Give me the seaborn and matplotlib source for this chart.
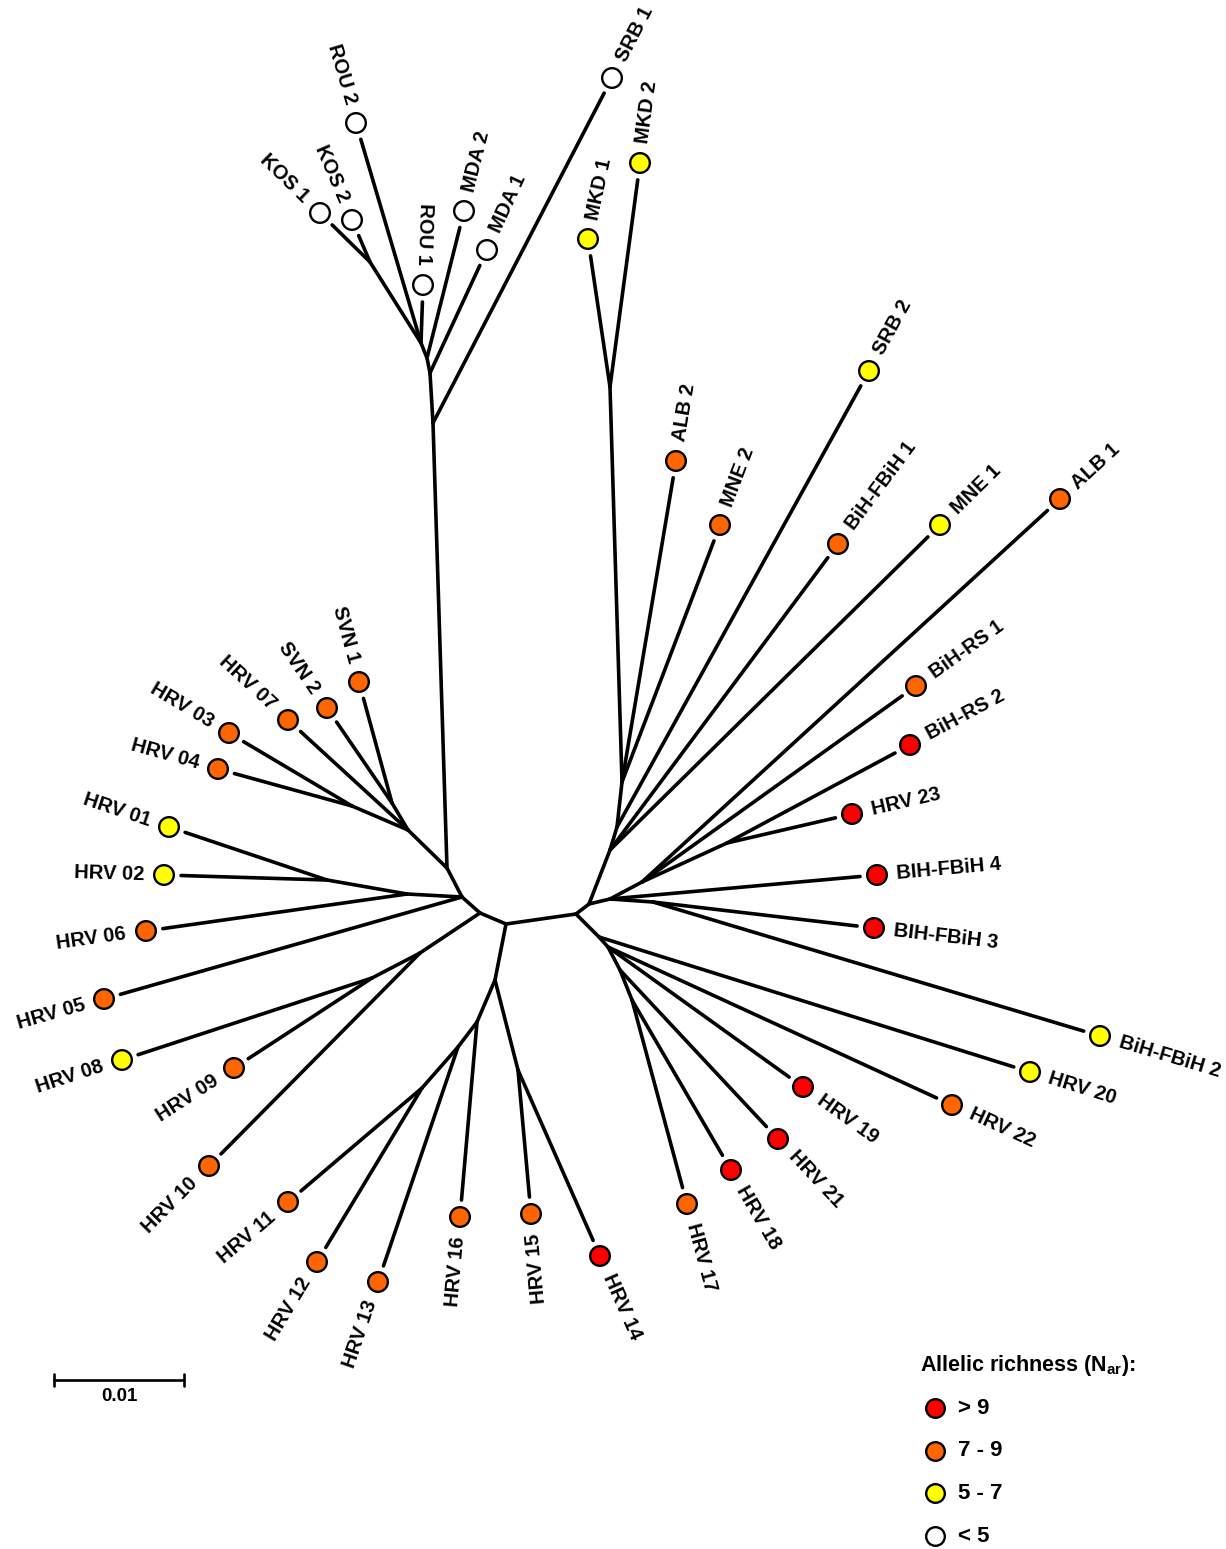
import numpy as np
import pandas as pd
import matplotlib.pyplot as plt
import seaborn as sns
from matplotlib.collections import LineCollection

# --- tree layout (units: 130 = 0.01 substitutions) ---
inner_names = ['C1', 'L2', 'L1', 'Lup', 'T1', 'T2', 'T3', 'T4', 'Tk', 'B', 'SV', 'H34',
               'N126', 'N12', 'N8910', 'N89', 'M1', 'M2', 'M3', 'M4', 'M5',
               'C2', 'R1', 'Na', 'Nb', 'Nc', 'MK', 'Q', 'N23', 'P', 'H23n',
               'D1', 'E1', 'E2', 'E3']
inner_x = [506, 480, 462, 447, 433, 430, 427, 421, 370, 408, 392, 352,
           407, 327, 420, 372, 495, 518, 477, 458, 422,
           576, 589, 610, 617, 622, 610, 610, 653, 642, 727,
           599, 608, 620, 632]
inner_y = [924, 913, 897, 868, 423, 373, 358, 343, 262, 830, 803, 806,
           894, 880, 953, 978, 980, 1070, 1022, 1047, 1088,
           914, 904, 850, 827, 782, 387, 899, 902, 882, 843,
           937, 947, 970, 1000]
inner_parent = [None, 'C1', 'L2', 'L1', 'Lup', 'T1', 'T2', 'T3', 'T4', 'Lup', 'B', 'B',
                'L1', 'N126', 'L2', 'N8910', 'C1', 'M1', 'M1', 'M3', 'M4',
                'C1', 'C2', 'R1', 'Na', 'Nb', 'Nc', 'R1', 'Q', 'Q', 'P',
                'C2', 'D1', 'E1', 'E2']

leaf_names = ['KOS 1', 'KOS 2', 'ROU 2', 'ROU 1', 'MDA 2', 'MDA 1', 'SRB 1',
              'MKD 1', 'MKD 2', 'ALB 2', 'MNE 2', 'SRB 2', 'BiH-FBiH 1', 'MNE 1',
              'ALB 1', 'BiH-RS 1', 'BiH-RS 2', 'HRV 23', 'BIH-FBiH 4', 'BIH-FBiH 3',
              'BiH-FBiH 2', 'HRV 20', 'HRV 22', 'HRV 19', 'HRV 21', 'HRV 18', 'HRV 17',
              'HRV 14', 'HRV 15', 'HRV 16', 'HRV 13', 'HRV 12', 'HRV 11', 'HRV 10',
              'HRV 09', 'HRV 08', 'HRV 05', 'HRV 06', 'HRV 02', 'HRV 01', 'HRV 04',
              'HRV 03', 'HRV 07', 'SVN 2', 'SVN 1']
leaf_x = [320, 352, 356, 423, 464, 487, 612,
          588, 640, 676, 720, 869, 838, 940,
          1060, 916, 910, 852, 877, 874,
          1100, 1030, 952, 803, 778, 731, 687,
          600, 531, 460, 378, 317, 288, 209,
          234, 122, 104, 146, 164, 169, 218,
          229, 288, 327, 359]
leaf_y = [213, 220, 123, 285, 211, 250, 78,
          239, 163, 461, 525, 371, 544, 525,
          499, 686, 745, 814, 875, 928,
          1036, 1072, 1105, 1087, 1139, 1170, 1204,
          1256, 1214, 1217, 1282, 1262, 1202, 1166,
          1068, 1060, 999, 931, 875, 827, 769,
          733, 720, 708, 682]
leaf_parent = ['Tk', 'Tk', 'T4', 'T4', 'T3', 'T2', 'T1',
               'MK', 'MK', 'Nc', 'Nc', 'Nb', 'Na', 'Na',
               'P', 'P', 'H23n', 'H23n', 'Q', 'N23',
               'N23', 'D1', 'E1', 'E1', 'E2', 'E3', 'E3',
               'M2', 'M2', 'M3', 'M4', 'M5', 'M5', 'N8910',
               'N89', 'N89', 'L1', 'N126', 'N12', 'N12', 'H34',
               'H34', 'B', 'SV', 'SV']
leaf_nar = ['< 5', '< 5', '< 5', '< 5', '< 5', '< 5', '< 5',
            '5 - 7', '5 - 7', '7 - 9', '7 - 9', '5 - 7', '7 - 9', '5 - 7',
            '7 - 9', '7 - 9', '> 9', '> 9', '> 9', '> 9',
            '5 - 7', '5 - 7', '7 - 9', '> 9', '> 9', '> 9', '7 - 9',
            '> 9', '7 - 9', '7 - 9', '7 - 9', '7 - 9', '7 - 9', '7 - 9',
            '7 - 9', '5 - 7', '7 - 9', '7 - 9', '5 - 7', '5 - 7', '7 - 9',
            '7 - 9', '7 - 9', '7 - 9', '7 - 9']

nar_classes = ['> 9', '7 - 9', '5 - 7', '< 5']
nar_colors = ['#ff0000', '#ff6600', '#ffff00', '#ffffff']
scale_value = 0.01
units_per_scale = 130

# label angle overrides where the label does not follow its branch
label_angle_fix = {'MKD 1': 78}

sns.set_theme(style='white')
plt.rcParams['font.family'] = ['Liberation Sans', 'DejaVu Sans']
plt.rcParams['text.color'] = 'black'
plt.rcParams['mathtext.fontset'] = 'custom'
plt.rcParams['mathtext.rm'] = 'Liberation Sans:bold'
plt.rcParams['mathtext.bf'] = 'Liberation Sans:bold'

fig = plt.figure(figsize=(12.26, 15.49), dpi=100)
ax = fig.add_axes([0, 0, 1, 1])
ax.set_xlim(0, 1226)
ax.set_ylim(1549, 0)
ax.axis('off')

pos = {n: (x, y) for n, x, y in zip(inner_names, inner_x, inner_y)}
for n, x, y in zip(leaf_names, leaf_x, leaf_y):
    pos[n] = (x, y)

gap = 17
segs = []
for n, p in zip(inner_names, inner_parent):
    if p is not None:
        segs.append([pos[p], pos[n]])
for n, p in zip(leaf_names, leaf_parent):
    x0, y0 = pos[p]
    x1, y1 = pos[n]
    d = np.hypot(x1 - x0, y1 - y0)
    segs.append([(x0, y0), (x1 - (x1 - x0) * gap / d, y1 - (y1 - y0) * gap / d)])

ax.add_collection(LineCollection(segs, colors='black', linewidths=2.6,
                                 capstyle='round', joinstyle='round', zorder=1))

leaves = pd.DataFrame({'name': leaf_names, 'x': leaf_x, 'y': leaf_y,
                       'parent': leaf_parent, 'nar': leaf_nar})
sns.scatterplot(data=leaves, x='x', y='y', hue='nar', hue_order=nar_classes,
                palette=dict(zip(nar_classes, nar_colors)), s=200,
                edgecolor='black', linewidth=1.7, legend=False, ax=ax, zorder=3)

# labels follow branch direction, flipped when pointing left
for _, r in leaves.iterrows():
    px, py = pos[r['parent']]
    ang = np.degrees(np.arctan2(-(r['y'] - py), r['x'] - px))
    ang = label_angle_fix.get(r['name'], ang)
    off = 20
    tx = r['x'] + off * np.cos(np.radians(ang))
    ty = r['y'] - off * np.sin(np.radians(ang))
    if abs(ang) > 84:
        rot, ha = ang - 180 if ang > 0 else ang + 180, 'right'
    else:
        rot, ha = ang, 'left'
    ax.text(tx, ty, r['name'], rotation=rot, rotation_mode='anchor',
            ha=ha, va='center', fontsize=14.5, fontweight='bold', color='black')

# scale bar
sx0, sy = 54, 1380
sx1 = sx0 + units_per_scale
ax.plot([sx0, sx1], [sy, sy], color='black', lw=1.9)
ax.plot([sx0, sx0], [sy - 6, sy + 6], color='black', lw=1.9)
ax.plot([sx1, sx1], [sy - 6, sy + 6], color='black', lw=1.9)
ax.text((sx0 + sx1) / 2, sy + 8, f'{scale_value:g}', ha='center', va='top',
        fontsize=13.5, fontweight='bold', color='black')

# legend
ax.text(920, 1366, r'Allelic richness (N$_{\mathbf{ar}}$):', ha='left', va='center',
        fontsize=15.5, fontweight='bold', color='black')
for i, (c, col) in enumerate(zip(nar_classes, nar_colors)):
    ly = 1408 + i * 42.7
    ax.scatter([935], [ly], s=180, color=col, edgecolor='black', linewidth=1.7, zorder=3)
    ax.text(958, ly, c, ha='left', va='center', fontsize=16, fontweight='bold',
            color='black')

fig.savefig('out.png', dpi=100)
